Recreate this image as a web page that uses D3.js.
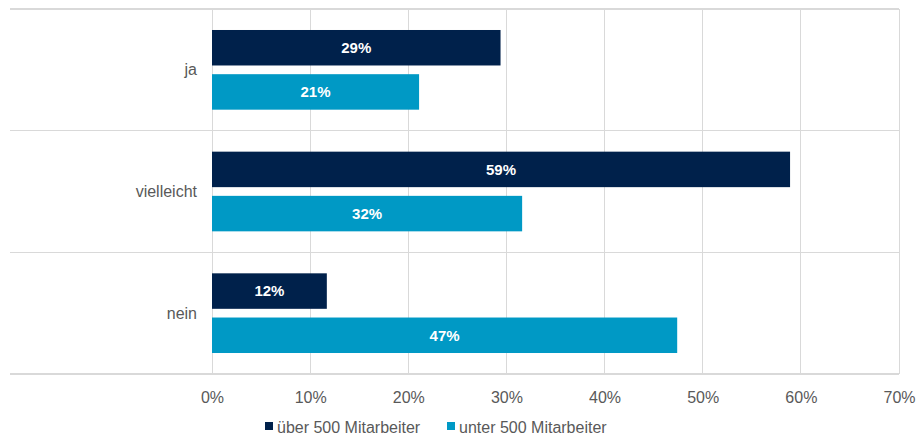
<!DOCTYPE html>
<html>
<head>
<meta charset="utf-8">
<script src="https://cdn.jsdelivr.net/npm/d3@7"></script>
<style>
  html, body { margin: 0; padding: 0; background: #fff; }
  svg { display: block; font-family: "Liberation Sans", Arial, sans-serif; }
</style>
</head>
<body>
<svg id="chart" width="917" height="437"></svg>
<script>
// Antworten je Unternehmensgröße
const categories = ["ja", "vielleicht", "nein"];
const seriesNames = ["über 500 Mitarbeiter", "unter 500 Mitarbeiter"];
const ueber500 = [0.294, 0.589, 0.117];
const unter500 = [0.211, 0.316, 0.474];
const xTicks = [0, 0.1, 0.2, 0.3, 0.4, 0.5, 0.6, 0.7];
const colors = ["#00214B", "#0099C5"];

const svg = d3.select("#chart");
const plot = { left: 212, right: 899, top: 9, bottom: 374 };
const outerLeft = 10;
const textColor = "#595959";
const fontSize = 16;

const x = d3.scaleLinear().domain([0, 0.7]).range([plot.left, plot.right]);
const y = d3.scaleBand().domain(categories).range([plot.top, plot.bottom]).paddingInner(0).paddingOuter(0);
const inner = d3.scaleBand().domain(seriesNames).range([0, y.bandwidth()]).paddingInner(0.197).paddingOuter(0.475);

const gridColor = "#d9d9d9";

// vertical gridlines
svg.append("g")
  .selectAll("line")
  .data(xTicks)
  .join("line")
  .attr("x1", d => x(d)).attr("x2", d => x(d))
  .attr("y1", plot.top).attr("y2", plot.bottom)
  .attr("stroke", gridColor).attr("stroke-width", 1)
  .attr("shape-rendering", "crispEdges");

// category separators (top edge of each band plus the bottom)
const sepYs = categories.map(c => y(c)).concat([plot.bottom]);
svg.append("g")
  .selectAll("line")
  .data(sepYs)
  .join("line")
  .attr("x1", outerLeft).attr("x2", plot.right)
  .attr("y1", d => d).attr("y2", d => d)
  .attr("stroke", gridColor).attr("stroke-width", 1.3)
  .attr("shape-rendering", "crispEdges");

// bars
const rows = categories.map((c, i) => ({ cat: c, vals: [ueber500[i], unter500[i]] }));
const fmt = d3.format(".0%");

const groups = svg.append("g")
  .selectAll("g")
  .data(rows)
  .join("g")
  .attr("transform", d => `translate(0,${y(d.cat)})`);

groups.selectAll("rect")
  .data(d => d.vals.map((v, k) => ({ v, k })))
  .join("rect")
  .attr("x", x(0))
  .attr("y", d => inner(seriesNames[d.k]))
  .attr("width", d => x(d.v) - x(0))
  .attr("height", inner.bandwidth())
  .attr("fill", d => colors[d.k]);

groups.selectAll("text.val")
  .data(d => d.vals.map((v, k) => ({ v, k })))
  .join("text")
  .attr("class", "val")
  .attr("x", d => (x(0) + x(d.v)) / 2)
  .attr("y", d => inner(seriesNames[d.k]) + inner.bandwidth() / 2)
  .attr("dy", "0.35em")
  .attr("text-anchor", "middle")
  .attr("fill", "#fff")
  .attr("font-weight", "bold")
  .attr("font-size", 15)
  .text(d => fmt(d.v));

// category labels
svg.append("g")
  .selectAll("text")
  .data(categories)
  .join("text")
  .attr("x", 197)
  .attr("y", d => y(d) + y.bandwidth() / 2)
  .attr("dy", "0.35em")
  .attr("text-anchor", "end")
  .attr("fill", textColor)
  .attr("font-size", fontSize)
  .text(d => d);

// x axis labels
const xAxis = d3.axisBottom(x).tickValues(xTicks).tickFormat(d3.format(".0%")).tickSize(0).tickPadding(18);
const axisG = svg.append("g")
  .attr("transform", `translate(0,${plot.bottom})`)
  .call(xAxis);
axisG.select(".domain").remove();
axisG.selectAll("text")
  .attr("fill", textColor)
  .attr("font-size", fontSize)
  .attr("font-family", "Liberation Sans, Arial, sans-serif");

// legend
const legendX = [265, 447];
const legend = svg.append("g")
  .selectAll("g")
  .data(seriesNames)
  .join("g")
  .attr("transform", (d, i) => `translate(${legendX[i]},427)`);
legend.append("rect")
  .attr("x", 0).attr("y", -5)
  .attr("width", 8).attr("height", 8)
  .attr("fill", (d, i) => colors[i]);
legend.append("text")
  .attr("x", 12)
  .attr("y", 0)
  .attr("dy", "0.35em")
  .attr("fill", textColor)
  .attr("font-size", fontSize)
  .text(d => d);
</script>
</body>
</html>
